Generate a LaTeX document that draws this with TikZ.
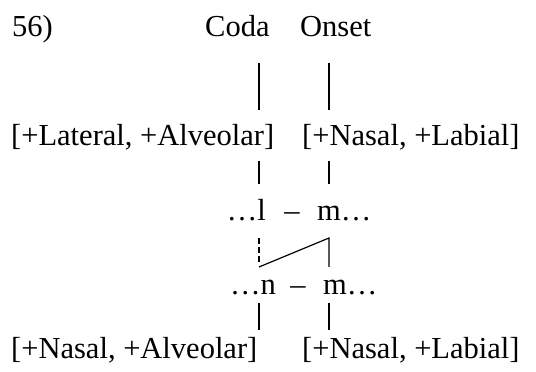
\documentclass[tikz,border=0pt]{standalone}
\usepackage{fontspec}
\setmainfont{Liberation Serif}
\usepackage{tikz}

\begin{document}
\begin{tikzpicture}[x=1pt, y=1pt, font=\fontsize{30.5}{36}\selectfont,
    txt/.style={inner sep=0pt, anchor=base west},
    link/.style={line width=1.2pt},
    tall/.style={line width=1.5pt}]
    \useasboundingbox (0,0) rectangle (536,372);
    % headings
    \node[txt] (num) at (12,335) {56)};
    \node[txt] (coda) at (205,335) {Coda};
    \node[txt] (onset) at (300,335) {Onset};
    % feature rows
    \node[txt] (latalv) at (11,226) {[+Lateral, +Alveolar]};
    \node[txt] (naslab) at (302,226) {[+Nasal, +Labial]};
    \node[txt] (nasalv) at (11,13) {[+Nasal, +Alveolar]};
    \node[txt] (naslabb) at (302,13) {[+Nasal, +Labial]};
    % segments
    \node[txt, anchor=base east] (lseg) at (266,151) {\ldots l};
    \node[txt, anchor=base] (dasha) at (292,151) {--};
    \node[txt] (mseg) at (317,151) {m\ldots};
    \node[txt, anchor=base east] (nseg) at (276,77) {\ldots n};
    \node[txt, anchor=base] (dashb) at (298,77) {--};
    \node[txt] (mmseg) at (323,77) {m\ldots};
    % line ends
    \coordinate (c1) at (259,309); \coordinate (c2) at (259,262);
    \coordinate (o1) at (329,309); \coordinate (o2) at (329,262);
    \coordinate (c3) at (259,211); \coordinate (c4) at (259,188);
    \coordinate (o3) at (329,211); \coordinate (o4) at (329,188);
    \coordinate (c5) at (259,134); \coordinate (c6) at (259,108);
    \coordinate (c7) at (259,105);
    \coordinate (o5) at (329,134); \coordinate (o6) at (329,105);
    \coordinate (c8) at (259,69); \coordinate (c9) at (259,42);
    \coordinate (o8) at (329,69); \coordinate (o9) at (329,42);
    \draw[tall] (c1) -- (c2);
    \draw[tall] (o1) -- (o2);
    \draw[link] (c3) -- (c4);
    \draw[link] (o3) -- (o4);
    \draw[link, dash pattern=on 6pt off 3pt] (c5) -- (c6);
    \draw[link] (c7) -- (o5) -- (o6);
    \draw[link] (c8) -- (c9);
    \draw[link] (o8) -- (o9);
\end{tikzpicture}
\end{document}
